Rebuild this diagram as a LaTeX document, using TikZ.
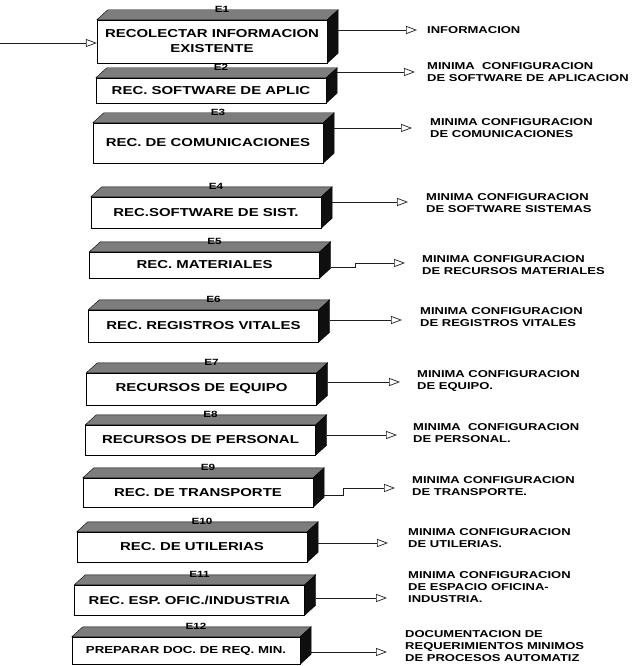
\documentclass[tikz,border=0pt]{standalone}
\usepackage{fontspec}
\usetikzlibrary{arrows.meta}
\newfontfamily\wideface[FakeStretch=1.3]{Liberation Sans}
\definecolor{topColor}{RGB}{125,125,125}
\definecolor{sideColor}{RGB}{15,15,15}
\definecolor{arrowColor}{RGB}{30,30,30}
\newcommand{\boxfont}{\wideface\bfseries\fontsize{11.5}{15}\selectfont}
\newcommand{\boxsmallfont}{\wideface\bfseries\fontsize{10.2}{13}\selectfont}
\newcommand{\outfont}{\wideface\bfseries\fontsize{10}{12}\selectfont}
\newcommand{\tagfont}{\wideface\bfseries\fontsize{9}{10}\selectfont}

\begin{document}
\begin{tikzpicture}[x=1pt, y=-1pt,
    box/.style={draw, fill=white, minimum width=230pt, inner sep=0pt, align=center, font=\boxfont},
    topface/.style={draw, fill=topColor},
    sideface/.style={draw, fill=sideColor},
    tag/.style={font=\tagfont, inner sep=0pt},
    outlabel/.style={anchor=west, align=left, inner sep=0pt, font=\outfont},
    arr/.style={-{Triangle[open, length=11pt, width=8pt]}, line width=0.7pt, arrowColor}
  ]
  \useasboundingbox (0,0) rectangle (637,666);

  % process boxes
  \node[box, minimum height=43pt] (b1) at (212,41.5) {RECOLECTAR INFORMACION \\ EXISTENTE};
  \node[box, minimum height=25pt] (b2) at (211,90.5) {REC. SOFTWARE DE APLIC};
  \node[box, minimum height=40pt] (b3) at (208,143) {REC. DE COMUNICACIONES};
  \node[box, minimum height=31pt] (b4) at (206,212.5) {REC.SOFTWARE DE SIST.};
  \node[box, minimum height=26pt] (b5) at (204.5,265) {REC. MATERIALES};
  \node[box, minimum height=32pt] (b6) at (203.5,326) {REC. REGISTROS VITALES};
  \node[box, minimum height=32pt] (b7) at (201.5,389) {RECURSOS DE EQUIPO};
  \node[box, minimum height=30pt] (b8) at (200.5,440) {RECURSOS DE PERSONAL};
  \node[box, minimum height=29pt] (b9) at (198,492.5) {REC. DE TRANSPORTE};
  \node[box, minimum height=30pt] (b10) at (192,547) {REC. DE UTILERIAS};
  \node[box, minimum height=30pt] (b11) at (189.5,600) {REC. ESP. OFIC./INDUSTRIA};
  \node[box, minimum height=27pt, minimum width=228pt, font=\boxsmallfont] (b12) at (186,650.5) {PREPARAR DOC. DE REQ. MIN.};

  % top and side faces, step tags
  \foreach \i in {1,...,12} {
    \draw[topface] (b\i.north west) -- ++(11pt,10pt) -- ([shift={(11pt,10pt)}]b\i.north east) -- (b\i.north east) -- cycle;
    \draw[sideface] (b\i.north east) -- ++(11pt,10pt) -- ([shift={(11pt,10pt)}]b\i.south east) -- (b\i.south east) -- cycle;
    \node[tag] (e\i) at ([shift={(10pt,10pt)}]b\i.north) {E\i};
  }

  % outputs
  \node[outlabel] (o1) at (427,30) {INFORMACION};
  \node[outlabel] (o2) at (427,72.5) {MINIMA\ \ CONFIGURACION \\ DE SOFTWARE DE APLICACION};
  \node[outlabel] (o3) at (430,128) {MINIMA CONFIGURACION \\ DE COMUNICACIONES};
  \node[outlabel] (o4) at (426,203) {MINIMA CONFIGURACION \\ DE SOFTWARE SISTEMAS};
  \node[outlabel] (o5) at (422,265) {MINIMA CONFIGURACION \\ DE RECURSOS MATERIALES};
  \node[outlabel] (o6) at (420,317.5) {MINIMA CONFIGURACION \\ DE REGISTROS VITALES};
  \node[outlabel] (o7) at (417,381) {MINIMA CONFIGURACION \\ DE EQUIPO.};
  \node[outlabel] (o8) at (413,433.5) {MINIMA\ \ CONFIGURACION \\ DE PERSONAL.};
  \node[outlabel] (o9) at (412,486) {MINIMA CONFIGURACION \\ DE TRANSPORTE.};
  \node[outlabel] (o10) at (408,538) {MINIMA CONFIGURACION \\ DE UTILERIAS.};
  \node[outlabel] (o11) at (408,587) {MINIMA CONFIGURACION \\ DE ESPACIO OFICINA- \\ INDUSTRIA.};
  \node[outlabel] (o12) at (405,646) {DOCUMENTACION DE \\ REQUERIMIENTOS MINIMOS \\ DE PROCESOS AUTOMATIZ};

  % arrow tips
  \coordinate (entry) at (0,43);
  \coordinate (t1) at (417,30);
  \coordinate (t2) at (415,72);
  \coordinate (t3) at (412,128);
  \coordinate (t4) at (408,202);
  \coordinate (t5) at (405,263);
  \coordinate (t6) at (402,320);
  \coordinate (t7) at (400,382);
  \coordinate (t8) at (397,435);
  \coordinate (t9) at (395,488);
  \coordinate (t10) at (388,543);
  \coordinate (t11) at (387,598);
  \coordinate (t12) at (387,652);

  \draw[arr] (entry) -- (entry -| b1.west);
  \draw[arr] (t1 -| b1.east) ++(11pt,0) -- (t1);
  \draw[arr] (t2 -| b2.east) ++(11pt,0) -- (t2);
  \draw[arr] (t3 -| b3.east) ++(11pt,0) -- (t3);
  \draw[arr] (t4 -| b4.east) ++(11pt,0) -- (t4);
  \draw[arr] (b5.east) ++(11pt,-2pt) -- ++(25pt,0) |- (t5);
  \draw[arr] (t6 -| b6.east) ++(11pt,0) -- (t6);
  \draw[arr] (t7 -| b7.east) ++(11pt,0) -- (t7);
  \draw[arr] (t8 -| b8.east) ++(11pt,0) -- (t8);
  \draw[arr] (b9.east) ++(11pt,-2.5pt) -- ++(19pt,0) |- (t9);
  \draw[arr] (t10 -| b10.east) ++(11pt,0) -- (t10);
  \draw[arr] (t11 -| b11.east) ++(11pt,0) -- (t11);
  \draw[arr] (t12 -| b12.east) ++(11pt,0) -- (t12);
\end{tikzpicture}
\end{document}
